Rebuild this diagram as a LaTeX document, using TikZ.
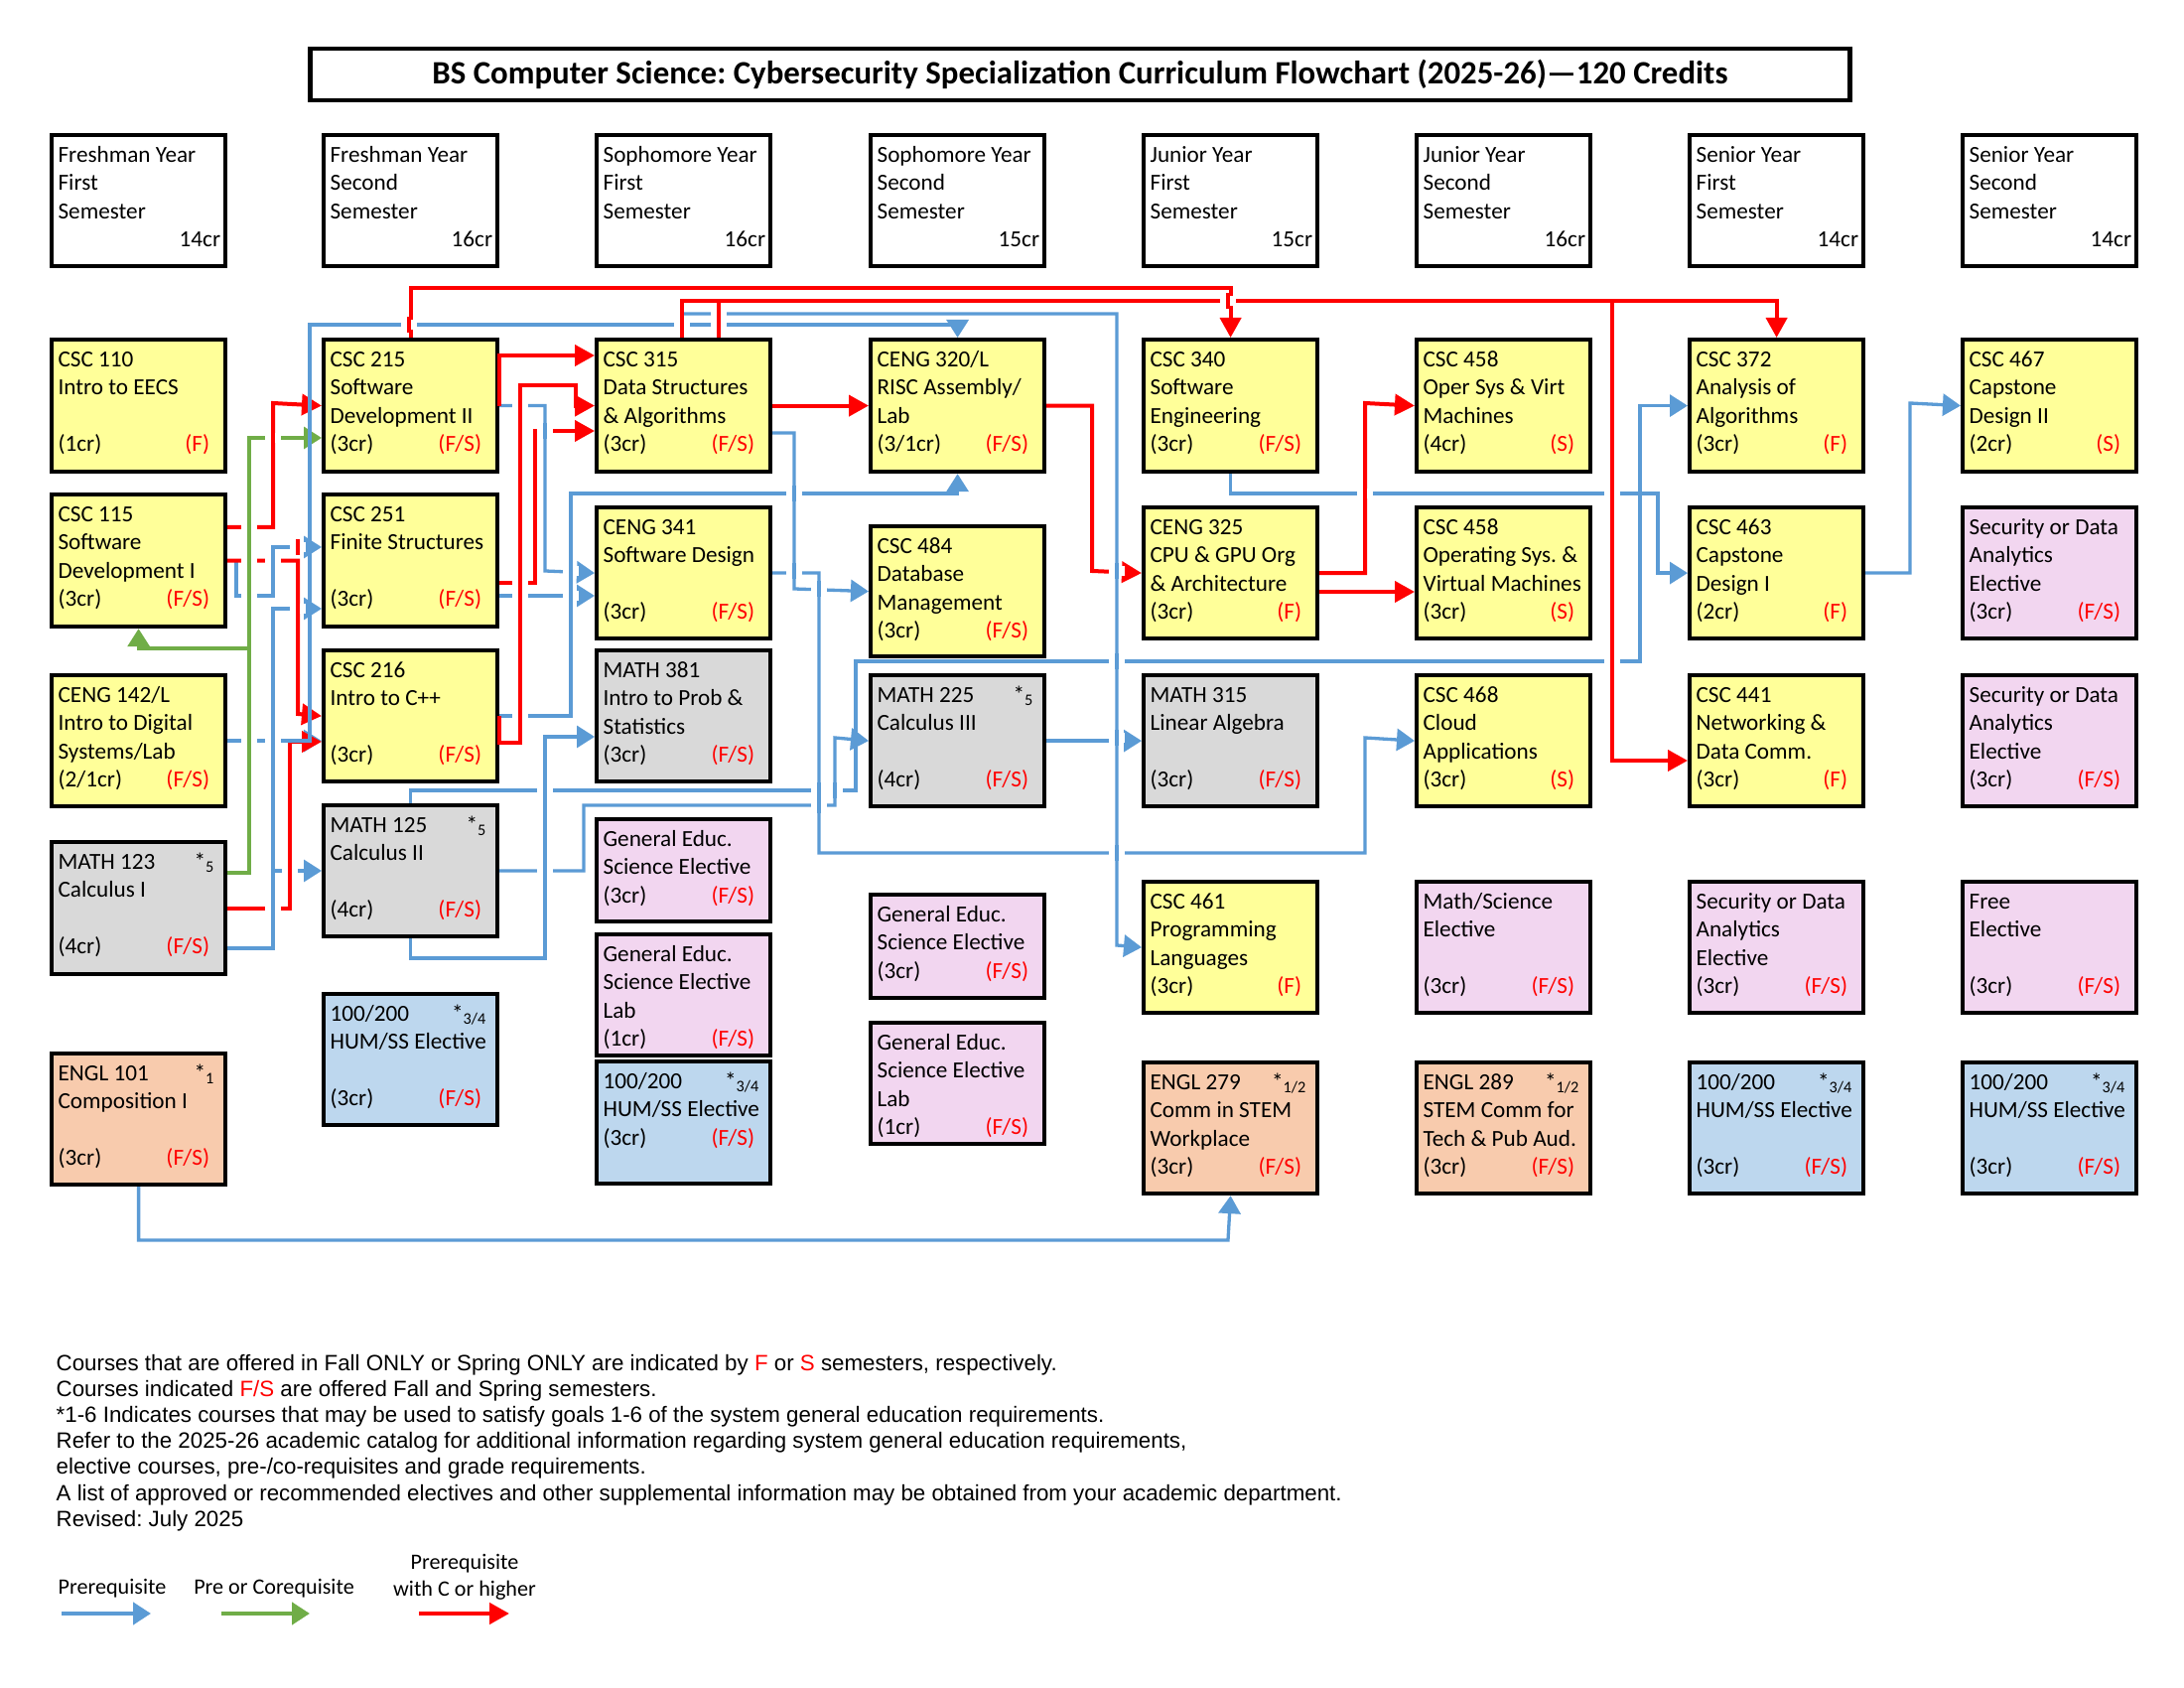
\documentclass[tikz,border=0pt]{standalone}
\usepackage{fontspec}
\setmainfont{Carlito}
\newfontfamily\notefont{Liberation Sans}
\usetikzlibrary{arrows.meta}
\frenchspacing
\definecolor{cblue}{RGB}{91,155,213}
\definecolor{cgreen}{RGB}{112,173,71}
\definecolor{cred}{RGB}{255,0,0}
\definecolor{fyel}{RGB}{255,255,153}
\definecolor{fgry}{RGB}{217,217,217}
\definecolor{fpnk}{RGB}{242,214,240}
\definecolor{fblu}{RGB}{189,215,238}
\definecolor{forg}{RGB}{248,203,173}
\newcommand{\boxfont}{\fontsize{6.6}{8.1}\selectfont}
\newcommand{\crs}[2]{\parbox[c][#1mm][t]{17.5mm}{\setlength{\leftskip}{.65mm}\vspace*{.73mm}\strut#2\par}}
\newcommand{\credit}[2]{(#1)\hfill\textcolor{cred}{(#2)}\hspace*{1.6mm}}
\newcommand{\goal}[1]{\hfill*\textsubscript{#1}\hspace*{1mm}}
\newcommand{\jmp}[3]{\fill[white] (#1-8,#2-5) rectangle (#1+8,#2+5); \draw[#3,-] (#1,#2-8) -- (#1,#2+8);}

\begin{document}
\begin{tikzpicture}[x=0.1mm, y=-0.1mm,
  bx/.style={draw, line width=0.42mm, anchor=north west, inner sep=0pt, font=\boxfont},
  hdr/.style={bx, fill=white}, yel/.style={bx, fill=fyel}, gry/.style={bx, fill=fgry},
  pnk/.style={bx, fill=fpnk}, blu/.style={bx, fill=fblu}, org/.style={bx, fill=forg},
  pre/.style={draw=cblue, line width=0.33mm, -{Triangle[length=1.8mm, width=2.2mm]}},
  co/.style={draw=cgreen, line width=0.33mm, -{Triangle[length=1.8mm, width=2.2mm]}},
  req/.style={draw=cred, line width=0.4mm, -{Triangle[length=2mm, width=2.1mm]}},
  lgd/.style={font=\fontsize{6.3}{7.7}\selectfont, inner sep=0pt, align=center}]
	%\draw[help lines] (0,0) grid[step=100] (2200,1700);
	\fill[white] (0,0) rectangle (2200,1700);
	\useasboundingbox (0,0) rectangle (2200,1700);
	\node[draw, line width=0.42mm, minimum width=155.1mm, minimum height=5.2mm, inner sep=0pt, font=\bfseries\fontsize{9.35}{10}\selectfont] (title) at (1088,75) {BS Computer Science: Cybersecurity Specialization Curriculum Flowchart (2025-26)---120 Credits};
	% semesters
	\node[hdr] (sem1) at (50,134) {\crs{13.2}{Freshman Year\\First\\Semester\\\mbox{}\hfill14cr\hspace*{.5mm}}};
	\node[hdr] (sem2) at (324,134) {\crs{13.2}{Freshman Year\\Second\\Semester\\\mbox{}\hfill16cr\hspace*{.5mm}}};
	\node[hdr] (sem3) at (599,134) {\crs{13.2}{Sophomore Year\\First\\Semester\\\mbox{}\hfill16cr\hspace*{.5mm}}};
	\node[hdr] (sem4) at (875,134) {\crs{13.2}{Sophomore Year\\Second\\Semester\\\mbox{}\hfill15cr\hspace*{.5mm}}};
	\node[hdr] (sem5) at (1150,134) {\crs{13.2}{Junior Year\\First\\Semester\\\mbox{}\hfill15cr\hspace*{.5mm}}};
	\node[hdr] (sem6) at (1425,134) {\crs{13.2}{Junior Year\\Second\\Semester\\\mbox{}\hfill16cr\hspace*{.5mm}}};
	\node[hdr] (sem7) at (1700,134) {\crs{13.2}{Senior Year\\First\\Semester\\\mbox{}\hfill14cr\hspace*{.5mm}}};
	\node[hdr] (sem8) at (1975,134) {\crs{13.2}{Senior Year\\Second\\Semester\\\mbox{}\hfill14cr\hspace*{.5mm}}};
	% column 1
	\node[yel] (csc110) at (50,340) {\crs{13.3}{CSC 110\\Intro to EECS\\\mbox{}\\\credit{1cr}{F}}};
	\node[yel] (csc115) at (50,496) {\crs{13.3}{CSC 115\\Software\\Development I\\\credit{3cr}{F/S}}};
	\node[yel] (ceng142) at (50,678) {\crs{13.2}{CENG 142/L\\Intro to Digital\\Systems/Lab\\\credit{2/1cr}{F/S}}};
	\node[gry] (math123) at (50,846) {\crs{13.3}{MATH 123\goal{5}\\Calculus I\\\mbox{}\\\credit{4cr}{F/S}}};
	\node[org] (engl101) at (50,1059) {\crs{13.2}{ENGL 101\goal{1}\\Composition I\\\mbox{}\\\credit{3cr}{F/S}}};
	% column 2
	\node[yel] (csc215) at (324,340) {\crs{13.3}{CSC 215\\Software\\Development II\\\credit{3cr}{F/S}}};
	\node[yel] (csc251) at (324,496) {\crs{13.3}{CSC 251\\Finite Structures\\\mbox{}\\\credit{3cr}{F/S}}};
	\node[yel] (csc216) at (324,653) {\crs{13.2}{CSC 216\\Intro to C++\\\mbox{}\\\credit{3cr}{F/S}}};
	\node[gry] (math125) at (324,809) {\crs{13.2}{MATH 125\goal{5}\\Calculus II\\\mbox{}\\\credit{4cr}{F/S}}};
	\node[blu] (hum1) at (324,999) {\crs{13.2}{100/200\goal{3/4}\\HUM/SS Elective\\\mbox{}\\\credit{3cr}{F/S}}};
	% column 3
	\node[yel] (csc315) at (599,340) {\crs{13.3}{CSC 315\\Data Structures\\\& Algorithms\\\credit{3cr}{F/S}}};
	\node[yel] (ceng341) at (599,509) {\crs{13.2}{CENG 341\\Software Design\\\mbox{}\\\credit{3cr}{F/S}}};
	\node[gry] (math381) at (599,653) {\crs{13.2}{MATH 381\\Intro to Prob \&\\Statistics\\\credit{3cr}{F/S}}};
	\node[pnk] (gensci1) at (599,823) {\crs{10.3}{General Educ.\\Science Elective\\\credit{3cr}{F/S}}};
	\node[pnk] (genlab1) at (599,939) {\crs{12.2}{General Educ.\\Science Elective\\Lab\\\credit{1cr}{F/S}}};
	\node[blu] (hum2) at (599,1067) {\crs{12.3}{100/200\goal{3/4}\\HUM/SS Elective\\\credit{3cr}{F/S}}};
	% column 4
	\node[yel] (ceng320) at (875,340) {\crs{13.3}{CENG 320/L\\RISC Assembly/\\Lab\\\credit{3/1cr}{F/S}}};
	\node[yel] (csc484) at (875,528) {\crs{13.1}{CSC 484\\Database\\Management\\\credit{3cr}{F/S}}};
	\node[gry] (math225) at (875,678) {\crs{13.2}{MATH 225\goal{5}\\Calculus III\\\mbox{}\\\credit{4cr}{F/S}}};
	\node[pnk] (gensci2) at (875,899) {\crs{10.4}{General Educ.\\Science Elective\\\credit{3cr}{F/S}}};
	\node[pnk] (genlab2) at (875,1028) {\crs{12.2}{General Educ.\\Science Elective\\Lab\\\credit{1cr}{F/S}}};
	% column 5
	\node[yel] (csc340) at (1150,340) {\crs{13.3}{CSC 340\\Software\\Engineering\\\credit{3cr}{F/S}}};
	\node[yel] (ceng325) at (1150,509) {\crs{13.2}{CENG 325\\CPU \& GPU Org\\\& Architecture\\\credit{3cr}{F}}};
	\node[gry] (math315) at (1150,678) {\crs{13.2}{MATH 315\\Linear Algebra\\\mbox{}\\\credit{3cr}{F/S}}};
	\node[yel] (csc461) at (1150,886) {\crs{13.2}{CSC 461\\Programming\\Languages\\\credit{3cr}{F}}};
	\node[org] (engl279) at (1150,1068) {\crs{13.2}{ENGL 279\goal{1/2}\\Comm in STEM\\Workplace\\\credit{3cr}{F/S}}};
	% column 6
	\node[yel] (csc458) at (1425,340) {\crs{13.3}{CSC 458\\Oper Sys \& Virt\\Machines\\\credit{4cr}{S}}};
	\node[yel] (csc458v) at (1425,509) {\crs{13.2}{CSC 458\\Operating Sys. \&\\Virtual Machines\\\credit{3cr}{S}}};
	\node[yel] (csc468) at (1425,678) {\crs{13.2}{CSC 468\\Cloud\\Applications\\\credit{3cr}{S}}};
	\node[pnk] (mathsci) at (1425,886) {\crs{13.2}{Math/Science\\Elective\\\mbox{}\\\credit{3cr}{F/S}}};
	\node[org] (engl289) at (1425,1068) {\crs{13.2}{ENGL 289\goal{1/2}\\STEM Comm for\\Tech \& Pub Aud.\\\credit{3cr}{F/S}}};
	% column 7
	\node[yel] (csc372) at (1700,340) {\crs{13.3}{CSC 372\\Analysis of\\Algorithms\\\credit{3cr}{F}}};
	\node[yel] (csc463) at (1700,509) {\crs{13.2}{CSC 463\\Capstone\\Design I\\\credit{2cr}{F}}};
	\node[yel] (csc441) at (1700,678) {\crs{13.2}{CSC 441\\Networking \&\\Data Comm.\\\credit{3cr}{F}}};
	\node[pnk] (sec3) at (1700,886) {\crs{13.2}{Security or Data\\Analytics\\Elective\\\credit{3cr}{F/S}}};
	\node[blu] (hum3) at (1700,1068) {\crs{13.2}{100/200\goal{3/4}\\HUM/SS Elective\\\mbox{}\\\credit{3cr}{F/S}}};
	% column 8
	\node[yel] (csc467) at (1975,340) {\crs{13.3}{CSC 467\\Capstone\\Design II\\\credit{2cr}{S}}};
	\node[pnk] (sec1) at (1975,509) {\crs{13.2}{Security or Data\\Analytics\\Elective\\\credit{3cr}{F/S}}};
	\node[pnk] (sec2) at (1975,678) {\crs{13.2}{Security or Data\\Analytics\\Elective\\\credit{3cr}{F/S}}};
	\node[pnk] (freeel) at (1975,886) {\crs{13.2}{Free\\Elective\\\mbox{}\\\credit{3cr}{F/S}}};
	\node[blu] (hum4) at (1975,1068) {\crs{13.2}{100/200\goal{3/4}\\HUM/SS Elective\\\mbox{}\\\credit{3cr}{F/S}}};

	% prerequisites
	\draw[pre] (ceng142.east) -- (csc216.west |- ceng142.east);
	\draw[pre] (687,0 |- csc315.north) -- ++(0,-24) -| (1125,952) -- (csc461.west);
	\draw[pre] (csc215.east) -| (549,575) -- (ceng341.west);
	\draw[pre] (csc251.east |- 0,600) -- (ceng341.west |- 0,600);
	\draw[pre] (csc216.east) -| (575,497) -| (ceng320.south);
	\draw[pre] (csc315.east |- 0,436) -| (800,593) -- (csc484.west);
	\draw[pre] (ceng341.east) -| (825,859) -| (1375,743) -- (csc468.west);
	\draw[pre] (math125.south) |- (549,965) |- (math381.west |- 0,742);
	\draw[pre] (math125.north) |- (862,796) |- (1652,666) |- (csc372.west);
	\draw[pre] (math125.east) -| (588,811) -| (841,743) -- (math225.west);
	\draw[pre] (math225.east) -- (math315.west);
	\draw[pre] (csc340.south) |- (1670,497) |- (csc463.west);
	\draw[pre] (csc463.east) -| (1924,406) -- (csc467.west);
	\draw[pre] (csc115.east) -| (238,600) -| (275,551) -- (csc251.west |- 0,551);
	\draw[pre] (math123.east |- 0,955) -| (275,613) -- (csc251.west |- 0,613);
	\draw[pre] (math123.east |- 0,955) -| (275,877) -- (math125.west |- 0,877);
	\draw[pre] (engl101.south) |- (1237,1249) -- (engl279.south);
	% prerequisites with C or higher
	\draw[req] (csc215.north) -- ++(0,-50) -| (csc340.north);
	\draw[req] (724,0 |- csc315.north) -- ++(0,-37) -| (csc372.north);
	\draw[req] (687,0 |- csc315.north) -- ++(0,-37) -| (1624,766) -- (csc441.west |- 0,766);
	\draw[req] (csc215.east) |- (csc315.west |- 0,358);
	\draw[req] (csc216.east) |- (524,748) |- (580,388) |- (csc315.west);
	\draw[req] (csc251.east |- 0,587) -| (539,434) -- (csc315.west |- 0,434);
	\draw[req] (csc315.east) -- (ceng320.west);
	\draw[req] (ceng320.east) -| (1100,575) -- (ceng325.west);
	\draw[req] (ceng325.east) -| (1375,406) -- (csc458.west);
	\draw[req] (ceng325.east |- 0,596) -- (csc458v.west |- 0,596);
	\draw[req] (csc115.east |- 0,531) -| (275,406) -- (csc215.west);
	\draw[req] (csc115.east) -| (300,719) -- (csc216.west);
	\draw[req] (math123.east) -| (292,747) -- (csc216.west |- 0,747);
	% pre or corequisites
	\draw[co] (math123.east |- 0,879) -| (251,441) -- (csc215.west |- 0,441);
	\draw[co] (math123.east |- 0,879) -| (251,653) -| (csc115.south);
	\draw[pre] (ceng142.east) -| (312,327) -| (ceng320.north);

	% line jumps
	\jmp{251}{531}{co} \jmp{251}{563}{co} \jmp{275}{563}{pre} \jmp{275}{441}{req}
	\jmp{251}{746}{co} \jmp{275}{746}{pre} \jmp{251}{600}{co} \jmp{300}{551}{req}
	\jmp{300}{613}{req} \jmp{275}{915}{pre} \jmp{292}{877}{req}
	\jmp{412}{327}{req} \jmp{687}{327}{req} \jmp{724}{327}{req} \jmp{724}{316}{req} \jmp{1237}{303}{req}
	\jmp{524}{406}{req} \jmp{549}{434}{pre} \jmp{575}{575}{pre} \jmp{524}{587}{req}
	\jmp{524}{600}{req} \jmp{575}{600}{pre} \jmp{524}{719}{req}
	\jmp{800}{497}{pre} \jmp{825}{593}{pre} \jmp{800}{575}{pre}
	\jmp{549}{796}{pre} \jmp{825}{796}{pre} \jmp{841}{796}{pre} \jmp{825}{811}{pre} \jmp{549}{875}{pre}
	\jmp{1125}{666}{pre} \jmp{1624}{666}{req} \jmp{1125}{859}{pre} \jmp{1125}{743}{pre} \jmp{1125}{575}{pre}
	\jmp{1375}{497}{req} \jmp{1624}{497}{req}

	% notes
	\node[anchor=north west, inner sep=0pt, align=left, font=\notefont\fontsize{6.35}{7.46}\selectfont] (notes) at (56,1361) {\strut Courses that are offered in Fall ONLY or Spring ONLY are indicated by \textcolor{cred}{F} or \textcolor{cred}{S} semesters, respectively.\\
	Courses indicated \textcolor{cred}{F/S} are offered Fall and Spring semesters.\\
	*1-6 Indicates courses that may be used to satisfy goals 1-6 of the system general education requirements.\\
	Refer to the 2025-26 academic catalog for additional information regarding system general education requirements,\\
	elective courses, pre-/co-requisites and grade requirements.\\
	A list of approved or recommended electives and other supplemental information may be obtained from your academic department.\\
	Revised: July 2025};
	% legend
	\node[lgd] (lgpre) at (113,1600) {Prerequisite};
	\node[lgd] (lgco) at (276,1600) {Pre or Corequisite};
	\node[lgd] (lgreq) at (468,1588) {Prerequisite\\with C or higher};
	\coordinate (lp0) at (62,1625); \coordinate (lp1) at (152,1625);
	\coordinate (lc0) at (223,1625); \coordinate (lc1) at (312,1625);
	\coordinate (lr0) at (422,1625); \coordinate (lr1) at (513,1625);
	\draw[pre, line width=0.45mm] (lp0) -- (lp1);
	\draw[co, line width=0.45mm] (lc0) -- (lc1);
	\draw[req, line width=0.45mm] (lr0) -- (lr1);
\end{tikzpicture}
\end{document}
